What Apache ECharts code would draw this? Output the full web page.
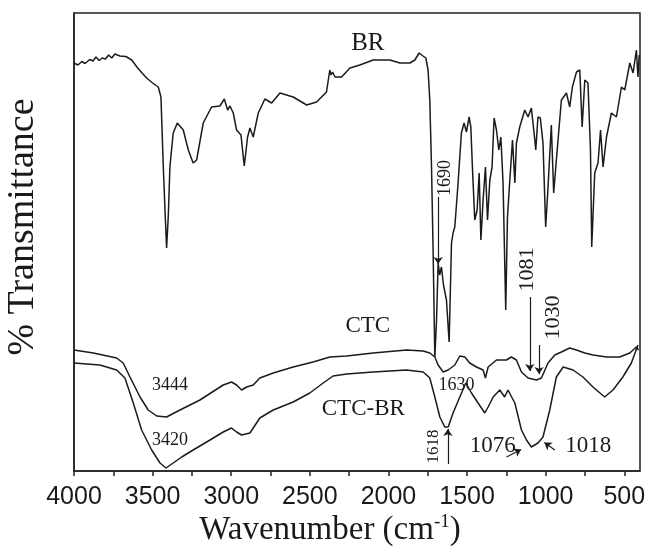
<!DOCTYPE html>
<html>
<head>
<meta charset="utf-8">
<script src="https://cdn.jsdelivr.net/npm/echarts@6/dist/echarts.min.js"></script>
<style>html,body{margin:0;padding:0;background:#fff}#c{width:647px;height:554px}</style>
</head>
<body>
<div id="c"></div>
<script>
// wavenumber (cm-1), transmittance (arbitrary % scale)
const brSpectrum = [
[4000,81.6],[3975,81.2],[3950,81.9],[3930,81.5],[3900,82.3],[3879,82.0],[3860,82.8],[3840,82.1],[3820,82.6],[3800,82.4],[3780,83.2],[3760,82.6],[3740,83.4],[3708,83.0],[3670,82.9],[3633,82.2],[3590,80.4],[3538,78.6],[3500,77.6],[3464,76.8],[3447,74.8],[3432,60.8],[3420,51.2],[3411,44.6],[3400,51.2],[3390,60.8],[3369,67.6],[3343,69.6],[3305,68.2],[3273,64.2],[3242,61.6],[3220,62.2],[3178,69.6],[3125,72.8],[3072,73.0],[3044,74.4],[3023,72.2],[3008,73.0],[2987,71.6],[2966,68.2],[2938,67.2],[2917,61.0],[2896,66.8],[2881,68.6],[2860,66.8],[2828,71.6],[2786,74.4],[2743,73.6],[2690,75.6],[2606,74.8],[2520,73.2],[2457,73.8],[2394,75.8],[2373,80.2],[2365,79.2],[2355,79.8],[2340,78.8],[2298,78.8],[2245,80.6],[2182,81.2],[2097,82.2],[1991,82.2],[1927,81.6],[1864,81.6],[1832,82.2],[1805,83.6],[1780,83.0],[1762,82.6],[1748,80.2],[1737,74.2],[1726,60.8],[1716,44.2],[1705,22.8],[1694,30.2],[1684,41.6],[1674,39.2],[1663,40.8],[1650,37.2],[1631,34.2],[1614,25.8],[1599,45.6],[1589,47.6],[1578,48.8],[1557,57.6],[1536,67.6],[1519,69.6],[1504,67.8],[1487,70.8],[1476,68.8],[1466,60.8],[1451,50.2],[1436,52.2],[1423,59.6],[1412,46.2],[1398,54.2],[1383,60.8],[1370,50.2],[1355,58.2],[1341,60.8],[1328,70.6],[1313,68.2],[1298,64.2],[1285,66.8],[1271,57.6],[1254,32.2],[1243,50.8],[1228,58.2],[1211,66.2],[1196,57.6],[1186,65.6],[1165,68.8],[1133,72.2],[1112,70.8],[1091,72.6],[1069,66.2],[1063,64.2],[1049,70.8],[1034,70.6],[1017,65.6],[1000,48.8],[986,56.2],[964,69.2],[949,55.6],[932,62.2],[900,74.2],[868,75.6],[847,72.8],[830,76.8],[804,79.8],[783,80.2],[768,68.8],[751,78.2],[731,77.6],[715,64.2],[707,44.8],[688,59.6],[667,61.6],[651,68.2],[635,60.8],[613,66.8],[582,71.6],[550,70.8],[518,76.8],[497,76.2],[465,81.6],[444,79.6],[423,84.2],[413,78.8],[405,83.2]
];
const ctcSpectrum = [
[4000,24.2],[3877,23.6],[3729,22.6],[3687,21.6],[3644,18.8],[3580,14.8],[3528,12.2],[3474,11.0],[3411,10.8],[3326,12.2],[3199,14.2],[3051,17.2],[2998,17.8],[2966,17.2],[2934,16.2],[2902,16.8],[2860,17.2],[2818,18.6],[2733,19.6],[2606,20.8],[2479,21.8],[2373,22.8],[2266,23.0],[2097,23.6],[1885,24.2],[1779,24.0],[1737,23.6],[1705,22.8],[1684,21.2],[1652,19.8],[1620,20.2],[1578,21.2],[1546,23.0],[1514,22.8],[1483,21.6],[1440,20.8],[1398,20.2],[1383,18.6],[1366,20.8],[1313,22.2],[1250,22.2],[1218,22.8],[1186,22.2],[1154,19.8],[1112,18.6],[1059,18.2],[1027,18.6],[985,21.6],[942,23.2],[900,23.8],[847,24.6],[804,24.2],[751,23.6],[698,23.2],[613,22.8],[529,22.8],[465,23.6],[423,24.8],[410,24.2]
];
const ctcBrSpectrum = [
[4000,21.6],[3835,21.2],[3729,20.2],[3676,18.6],[3623,13.6],[3570,8.2],[3506,4.2],[3453,1.6],[3415,0.6],[3369,1.6],[3315,2.8],[3242,4.2],[3135,6.2],[3051,7.8],[2998,8.6],[2966,7.8],[2934,7.2],[2881,7.6],[2818,10.6],[2733,12.2],[2606,13.8],[2500,15.6],[2415,17.6],[2352,19.0],[2266,19.4],[2097,19.8],[1885,20.2],[1779,19.8],[1737,18.6],[1705,14.8],[1673,10.8],[1642,8.8],[1620,8.8],[1589,11.6],[1546,14.8],[1508,17.6],[1472,15.6],[1430,13.6],[1387,11.6],[1366,12.8],[1334,14.8],[1292,16.2],[1261,14.8],[1240,16.2],[1196,13.6],[1154,8.2],[1122,6.2],[1091,4.8],[1049,5.6],[1017,6.8],[974,12.2],[932,18.8],[889,20.8],[826,20.2],[763,18.8],[699,16.8],[625,14.8],[572,16.2],[509,18.8],[455,21.6],[413,25.2]
];
const tickLabels = [4000,3500,3000,2500,2000,1500,1000,500];
const tickMarks = [4000,3750,3500,3250,3000,2750,2500,2250,2000,1750,1500,1250,1000,750,500];
// annotations: [text, wavenumber, transmittance, fontSize, rotation(deg)]
const annotations = [
['BR',2131,85.6,25,0],['CTC',2131,29.0,23,0],['CTC-BR',2160,12.4,23,0],
['3444',3390,17.2,18,0],['3420',3390,6.2,18,0],['1630',1567,17.2,18,0],
['1618',1716,4.9,17,90],['1690',1640,58.6,18,90],['1081',1115,40.3,22,90],
['1030',954,30.7,22,90],['1076',1336,5.0,23,0],['1018',729,5.0,23,0]
];
// arrows: [from wn, from T, to wn, to T]
const arrows = [
[1684,54.8,1684,41.4],[1622,1.4,1622,8.4],[1101,34.8,1101,20.0],[1042,25.2,1042,19.4],[1249,2.8,1156,4.3],[942,4.2,1008,5.7]
];

const chart = echarts.init(document.getElementById('c'), null, {renderer:'canvas'});
const lineStyle = {color:'#1b1b1b', width:1.5};
const mk = (name, data) => ({name, type:'line', data, showSymbol:false, symbol:'none', lineStyle, sampling:null, animation:false, z:3});
const option = {
  animation:false,
  backgroundColor:'#fff',
  grid:{left:74, right:7, top:13, bottom:83, containLabel:false, outerBoundsMode:'none', show:true, borderColor:'#222', borderWidth:1.5, backgroundColor:'transparent'},
  xAxis:{type:'value', inverse:true, min:400, max:4000,
    axisLine:{lineStyle:{color:'#222', width:1.5}},
    axisTick:{show:true, length:5, customValues:tickMarks, lineStyle:{color:'#222', width:1.5}},
    axisLabel:{customValues:tickLabels, formatter:v => String(v), fontSize:25, fontFamily:'Liberation Sans', color:'#1a1a1a', margin:14},
    splitLine:{show:false}},
  yAxis:{type:'value', min:0, max:91.6,
    axisLine:{show:true, lineStyle:{color:'#222', width:1.5}},
    axisTick:{show:false}, axisLabel:{show:false}, splitLine:{show:false}},
  series:[
    mk('BR', brSpectrum), mk('CTC', ctcSpectrum), mk('CTC-BR', ctcBrSpectrum),
    {type:'line', data:[], silent:true, markLine:{silent:true, symbol:['none','arrow'], symbolSize:7, animation:false,
      label:{show:false}, lineStyle:{color:'#1b1b1b', width:1.2, type:'solid'},
      data: arrows.map(a => [{coord:[a[0],a[1]]},{coord:[a[2],a[3]]}])}}
  ]
};
chart.setOption(option);

const g = annotations.map(a => {
  const p = chart.convertToPixel({gridIndex:0}, [a[1], a[2]]);
  return {type:'text', x:p[0], y:p[1], rotation: a[4]*Math.PI/180, z:10,
    style:{text:a[0], font:a[3]+'px "Liberation Serif"', fill:'#1a1a1a', align:'center', verticalAlign:'middle'}};
});
g.push({type:'text', x:330, y:530, z:10,
  style:{text:'Wavenumber (cm{sup|-1})', font:'33px "Liberation Serif"', fill:'#1a1a1a', align:'center', verticalAlign:'middle',
    rich:{sup:{font:'19px "Liberation Serif"', verticalAlign:'top', padding:[0,0,16,0], fill:'#1a1a1a'}}}});
g.push({type:'text', x:23, y:227, rotation:Math.PI/2, z:10,
  style:{text:'% Transmittance', font:'38px "Liberation Serif"', fill:'#1a1a1a', align:'center', verticalAlign:'middle'}});
chart.setOption({graphic:g});
</script>
</body>
</html>
